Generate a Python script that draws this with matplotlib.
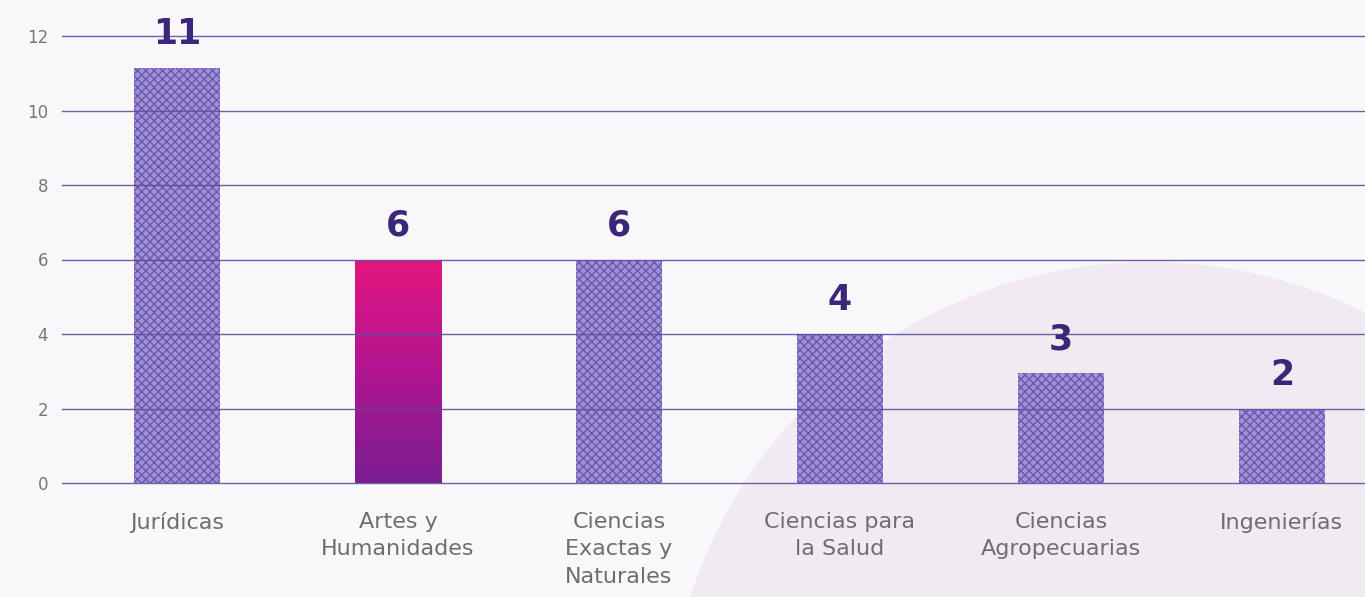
import numpy as np
import matplotlib.pyplot as plt
from matplotlib.patches import Circle
from matplotlib.colors import LinearSegmentedColormap

# Data
categories = ["Jurídicas", "Artes y\nHumanidades", "Ciencias\nExactas y\nNaturales",
              "Ciencias para\nla Salud", "Ciencias\nAgropecuarias", "Ingenierías"]
values = [11, 6, 6, 4, 3, 2]
bar_heights = [11.15, 6, 6, 4, 2.95, 2]
highlight = 1

fig = plt.figure(figsize=(13.65, 5.97), dpi=100)
fig.patch.set_facecolor("#f8f7fa")

# big pale circle in the background
bg = fig.add_axes([0, 0, 1, 1], zorder=0)
bg.set_xlim(0, 1365)
bg.set_ylim(597, 0)
bg.axis("off")
bg.add_patch(Circle((1150, 745), 483, color="#f1eaf3", lw=0))

ax = fig.add_axes([62 / 1365, 1 - 483 / 597, 1 - 62 / 1365, (483 - 36) / 597], zorder=1)
ax.patch.set_alpha(0)

x = np.arange(len(categories))
ax.set_xlim(-0.52, 5.376)
ax.set_ylim(0, 12)

for yv in range(0, 13, 2):
    ax.axhline(yv, color="#5e4e9e", lw=1.0, zorder=3, clip_on=False, alpha=0.9)

bars = ax.bar(x, bar_heights, width=0.39, color="#a091d6", edgecolor="#6a57ae",
              hatch="xxxx", linewidth=0, zorder=2)

# gradient for the highlighted bar
hb = bars[highlight]
hb.set_facecolor("none")
hb.set_hatch(None)
grad = np.linspace(0, 1, 256).reshape(-1, 1)
cmap = LinearSegmentedColormap.from_list("g", ["#7a1f92", "#b01590", "#e4167f"])
bx, bw, bh = hb.get_x(), hb.get_width(), hb.get_height()
im = ax.imshow(grad, cmap=cmap, origin="lower", aspect="auto",
               extent=[bx, bx + bw, 0, bh], zorder=2)
im.set_clip_path(hb)

for xi, v, h in zip(x, values, bar_heights):
    ax.annotate(str(v), (xi, h), xytext=(0, 12), textcoords="offset points",
                ha="center", va="bottom", fontsize=25, fontweight="bold",
                color="#3b2778", family="DejaVu Sans", annotation_clip=False)

ax.set_yticks(range(0, 13, 2))
ax.set_yticklabels([str(t) for t in range(0, 13, 2)], fontsize=12, color="#777777")
ax.set_xticks(x)
ax.set_xticklabels(categories, fontsize=16, color="#6e6e6e", linespacing=1.45)
ax.tick_params(axis="both", length=0)
ax.tick_params(axis="y", pad=10)
ax.tick_params(axis="x", pad=21)
for s in ax.spines.values():
    s.set_visible(False)

fig.savefig("out.png", dpi=100, facecolor=fig.get_facecolor())
